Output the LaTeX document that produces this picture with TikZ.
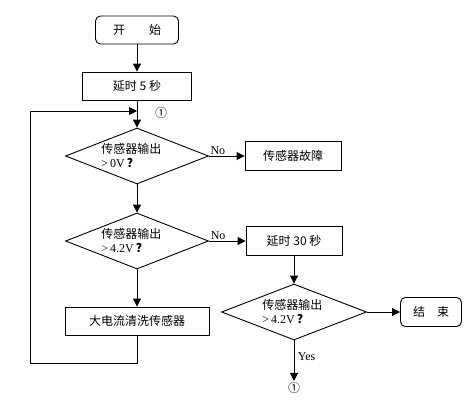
\documentclass[tikz,border=0pt]{standalone}
\usepackage{fontspec}
\setmainfont{Noto Sans CJK SC}
\newfontfamily\lat{Liberation Serif}
\usetikzlibrary{shapes.geometric,arrows.meta}

\begin{document}
\begin{tikzpicture}[x=1pt, y=-1pt, line width=0.9pt,
  >={Triangle[length=8pt,width=8pt]},
  every node/.style={font=\fontsize{12}{14}\selectfont},
  box/.style={draw, minimum width=96pt, minimum height=29pt, inner sep=0pt},
  term/.style={box, rounded corners=5pt},
  test/.style={draw, diamond, aspect=2.55, minimum width=143pt, minimum height=56pt, inner sep=0pt},
  testtxt/.style={anchor=west, align=left, inner sep=0pt, xshift=-36pt},
  latin/.style={font=\lat\fontsize{12}{14}\selectfont}]

\useasboundingbox (0,0) rectangle (473,402);

\node[term, minimum width=83pt, minimum height=28pt] (start) at (137,30) {开\hspace{2em}始};
\node[box, minimum width=109pt, minimum height=28pt] (wait5) at (137,86) {延时 5 秒};
\node (mark) at (161,113) {①};
\coordinate (join) at (137,111);
\node[test] (q1) at (137,156) {};
\node[testtxt] (q1txt) at (q1) {传感器输出\\{\lat >\,0V}\,\textbf{？}};
\node[box] (fault) at (293,156) {传感器故障};
\node[test] (q2) at (137,241) {};
\node[testtxt] (q2txt) at (q2) {传感器输出\\{\lat >\,4.2V}\,\textbf{？}};
\node[box] (wait30) at (294,241) {延时 30 秒};
\node[box, minimum width=144pt, minimum height=28pt] (clean) at (137,321) {大电流清洗传感器};
\node[test, minimum width=145pt] (q3) at (294,312) {};
\node[testtxt, xshift=4pt] (q3txt) at (q3) {传感器输出\\{\lat >\,4.2V}\,\textbf{？}};
\node[term, minimum width=61pt] (end) at (431,312) {结\hspace{1em}束};
\node[inner sep=1pt] (mark2) at (294,388) {①};
\coordinate (corner) at (30,363);

\draw[->] (start) -- (wait5);
\draw[->] (wait5) -- (q1);
\draw[->] (q1) -- node[latin, above, pos=0.25, inner sep=1pt] {No} (fault);
\draw[->] (q1) -- (q2);
\draw[->] (q2) -- node[latin, above, pos=0.25, inner sep=1pt] {No} (wait30);
\draw[->] (q2) -- (clean);
\draw[->] (wait30) -- (q3);
\draw[->] (q3) -- (end);
\draw[->] (q3) -- node[latin, right, pos=0.4] {Yes} (mark2.north);
\draw[->] (clean) |- (corner) |- (join);

\end{tikzpicture}
\end{document}
